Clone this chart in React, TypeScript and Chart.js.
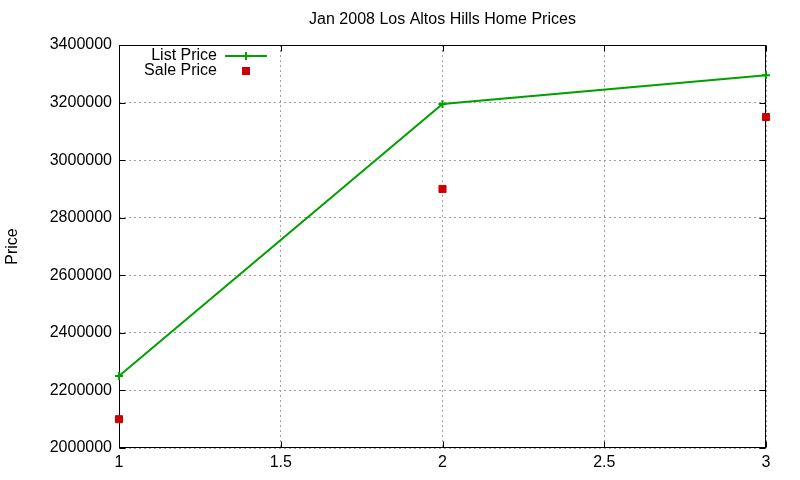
import { useEffect, useRef } from "react";
import { Chart, registerables } from "chart.js";

Chart.register(...registerables);

// data
const xValues = [1, 2, 3];
const listPrices = [2250000, 3195000, 3295000];
const salePrices = [2100000, 2900000, 3150000];
const seriesLabels = ["List Price", "Sale Price"];
const chartTitle = "Jan 2008 Los Altos Hills Home Prices";
const yAxisTitle = "Price";
const yMin = 2000000;
const yMax = 3400000;
const yStep = 200000;
const xMin = 1;
const xMax = 3;
const xStep = 0.5;

const GREEN = "#00a000";
const RED = "#cc0000";
const FONT = "'Liberation Sans', Arial, sans-serif";

// gnuplot-style box with inward ticks on all four sides
const framePlugin = {
  id: "frame",
  beforeDatasetsDraw(chart: any) {
    const { ctx, chartArea: a, scales } = chart;
    const L = Math.round(a.left) + 0.5;
    const R = Math.round(a.right) - 0.5;
    const T = Math.round(a.top) + 0.5;
    const B = Math.round(a.bottom) - 0.5;
    const len = 6;
    ctx.save();
    ctx.strokeStyle = "#000";
    ctx.lineWidth = 1;
    ctx.setLineDash([]);
    ctx.beginPath();
    scales.y.ticks.forEach((t: any) => {
      const y = Math.round(scales.y.getPixelForValue(t.value)) + 0.5;
      ctx.moveTo(L, y);
      ctx.lineTo(L + len, y);
      ctx.moveTo(R, y);
      ctx.lineTo(R - len, y);
    });
    scales.x.ticks.forEach((t: any) => {
      const x = Math.round(scales.x.getPixelForValue(t.value)) + 0.5;
      ctx.moveTo(x, B);
      ctx.lineTo(x, B - len);
      ctx.moveTo(x, T);
      ctx.lineTo(x, T + len);
    });
    ctx.stroke();
    ctx.strokeRect(L, T, R - L, B - T);
    ctx.restore();
  },
};

// key drawn inside the plot, text right-aligned then the sample
const keyPlugin = {
  id: "key",
  afterDatasetsDraw(chart: any) {
    const { ctx, chartArea: a } = chart;
    const textRight = a.left + 98;
    const sampleX = a.left + 127;
    const rowY = [a.top + 11, a.top + 26];
    ctx.save();
    ctx.font = `16px ${FONT}`;
    ctx.textAlign = "right";
    ctx.textBaseline = "middle";
    chart.data.datasets.forEach((ds: any, i: number) => {
      const y = rowY[i];
      ctx.fillStyle = "#000";
      ctx.fillText(ds.label, textRight, y);
      if (ds.showLine) {
        ctx.strokeStyle = ds.borderColor;
        ctx.lineWidth = 2;
        ctx.beginPath();
        ctx.moveTo(sampleX - 21, y);
        ctx.lineTo(sampleX + 21, y);
        ctx.moveTo(sampleX, y - 4);
        ctx.lineTo(sampleX, y + 4);
        ctx.stroke();
      } else {
        ctx.fillStyle = ds.pointBackgroundColor;
        ctx.fillRect(sampleX - 4, y - 4, 8, 8);
      }
    });
    ctx.restore();
  },
};

export default function App() {
  const canvasRef = useRef<HTMLCanvasElement>(null);
  const chartRef = useRef<Chart | null>(null);

  useEffect(() => {
    if (!canvasRef.current) return;
    if (chartRef.current) chartRef.current.destroy();

    Chart.defaults.font.family = FONT;
    Chart.defaults.color = "#000";

    chartRef.current = new Chart(canvasRef.current, {
      type: "scatter",
      data: {
        datasets: [
          {
            label: seriesLabels[0],
            data: xValues.map((x, i) => ({ x, y: listPrices[i] })),
            showLine: true,
            borderColor: GREEN,
            backgroundColor: GREEN,
            borderWidth: 2,
            pointStyle: "cross",
            pointRadius: 4,
            pointBorderWidth: 2,
            pointBorderColor: GREEN,
            pointBackgroundColor: GREEN,
            clip: false as any,
          },
          {
            label: seriesLabels[1],
            data: xValues.map((x, i) => ({ x, y: salePrices[i] })),
            showLine: false,
            borderColor: RED,
            backgroundColor: RED,
            pointStyle: "rect",
            pointRadius: 5,
            pointBorderWidth: 1,
            pointBorderColor: RED,
            pointBackgroundColor: RED,
            clip: false as any,
          },
        ],
      },
      options: {
        responsive: true,
        maintainAspectRatio: false,
        animation: false,
        layout: { padding: { left: 0, right: 34, top: 0, bottom: 0 } },
        plugins: {
          legend: { display: false },
          tooltip: { enabled: false },
          title: {
            display: true,
            text: chartTitle,
            fullSize: false,
            color: "#000",
            font: { size: 16, weight: "normal" as any },
            padding: { top: 10.4, bottom: 15.4 },
          },
        },
        scales: {
          x: {
            type: "linear",
            min: xMin,
            max: xMax,
            afterFit: (s: any) => {
              s.height = 32;
            },
            ticks: {
              stepSize: xStep,
              padding: 5,
              font: { size: 16 },
              color: "#000",
              callback: (v: any) => String(v),
            },
            grid: { color: "#a0a0a0", lineWidth: 1, drawTicks: false },
            border: { display: false, dash: [2, 3] },
          },
          y: {
            type: "linear",
            min: yMin,
            max: yMax,
            afterFit: (s: any) => {
              s.width = 119;
            },
            ticks: {
              stepSize: yStep,
              padding: 7,
              font: { size: 16 },
              color: "#000",
              callback: (v: any) => String(v),
            },
            title: {
              display: true,
              text: yAxisTitle,
              font: { size: 16 },
              color: "#000",
              padding: { top: 3, bottom: 0 },
            },
            grid: { color: "#a0a0a0", lineWidth: 1, drawTicks: false },
            border: { display: false, dash: [2, 3] },
          },
        },
      },
      plugins: [framePlugin, keyPlugin],
    });

    return () => {
      if (chartRef.current) {
        chartRef.current.destroy();
        chartRef.current = null;
      }
    };
  }, []);

  return (
    <div style={{ position: "absolute", left: 0, top: 0, width: 800, height: 480, background: "#fff" }}>
      <canvas ref={canvasRef} />
    </div>
  );
}
